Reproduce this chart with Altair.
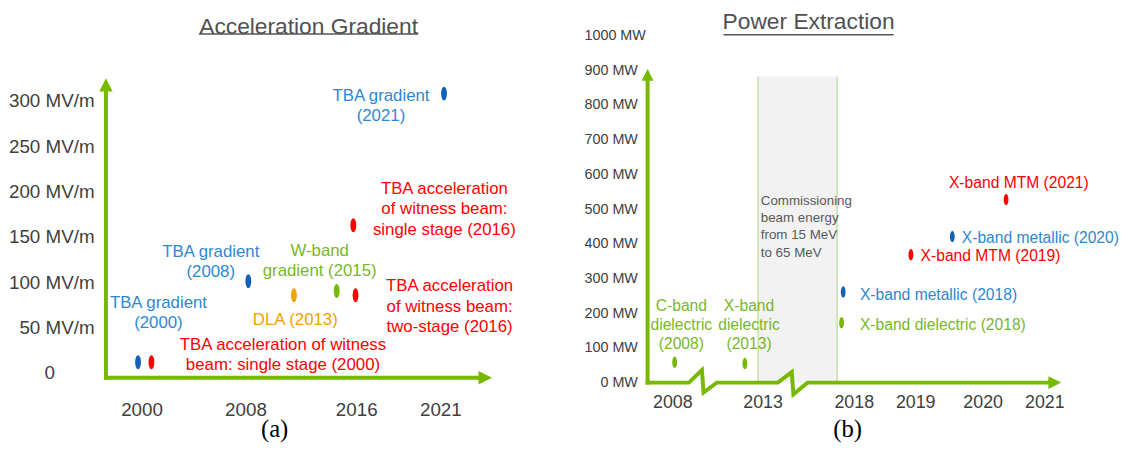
import altair as alt
import pandas as pd

FONT = "Liberation Sans"
SERIF = "Liberation Serif"
GREEN = "#76b900"
GREEN_TXT = "#78b72a"
GREEN_SOFT = "#b9dc92"
BLUE_TXT = "#2d88d2"
BLUE_DOT = "#1462b8"
RED = "#ff0000"
ORANGE_DOT = "#f5a300"
ORANGE_TXT = "#f2a100"
GREY = "#404040"
NOTE_GREY = "#595959"

ELLIPSE = "M0,-1A0.42,1 0 1,1 0,1A0.42,1 0 1,1 0,-1Z"
ARROW_UP = "M0,-1L1,1L-1,1Z"
ARROW_RIGHT = "M1,0L-1,1L-1,-1Z"

# ---------------- (a) Acceleration Gradient ----------------
a_tick_years = [2000, 2008, 2016, 2021]
a_tick_gradient = [0, 50, 100, 150, 200, 250, 300]

a_pt_year = [1999.73, 2000.76, 2008.21, 2011.5, 2014.59, 2015.95, 2015.79, 2021.22]
a_pt_gradient = [11.6, 11.6, 101, 85.5, 90.2, 85.5, 162.7, 308]
a_pt_color = [BLUE_DOT, RED, BLUE_DOT, ORANGE_DOT, GREEN, RED, RED, BLUE_DOT]

a_lbl_text = [
    "TBA gradient\n(2000)",
    "TBA gradient\n(2008)",
    "TBA acceleration of witness\nbeam: single stage (2000)",
    "DLA (2013)",
    "W-band\ngradient (2015)",
    "TBA acceleration\nof witness beam:\ntwo-stage (2016)",
    "TBA acceleration\nof witness beam:\nsingle stage (2016)",
    "TBA gradient\n(2021)",
]
a_lbl_year = [2001.3, 2005.33, 2010.71, 2011.6, 2013.36, 2021.55, 2021.24, 2017.47]
# gradient level of the first text line of each label
a_lbl_gradient = [77.1, 133.5, 30.9, 58.2, 134.6, 95.3, 202.6, 305.7]
a_lbl_color = [BLUE_TXT, BLUE_TXT, RED, ORANGE_TXT, GREEN_TXT, RED, RED, BLUE_TXT]

# axis arrows (data units of panel a)
a_axis_x = [1997.257, 1997.257]
a_axis_x2 = [1997.257, 2023.28]
a_axis_y = [-5.46, -5.46]
a_axis_y2 = [314.7, -5.46]
a_head_x = [1997.257, 2023.67]
a_head_y = [317.6, -5.46]
a_head_shape = [ARROW_UP, ARROW_RIGHT]
a_head_size = [182, 186]

# ---------------- (b) Power Extraction ----------------
b_tick_years = [2008, 2013, 2018, 2019, 2020, 2021]
b_tick_power = [0, 100, 200, 300, 400, 500, 600, 700, 800, 900, 1000]

b_pt_year = [2008.13, 2012.02, 2017.42, 2017.33, 2018.93, 2019.55, 2020.38]
b_pt_power = [58.7, 55, 261, 172.8, 368.7, 420.9, 527.5]
b_pt_color = [GREEN, GREEN, BLUE_DOT, GREEN, RED, BLUE_DOT, RED]

b_clbl_text = ["C-band\ndielectric\n(2008)", "X-band\ndielectric\n(2013)"]
b_clbl_year = [2008.5, 2012.25]
b_clbl_power = [220.4, 220.4]

b_lbl_text = [
    "X-band MTM (2021)",
    "X-band metallic (2020)",
    "X-band MTM (2019)",
    "X-band metallic (2018)",
    "X-band dielectric (2018)",
]
b_lbl_year = [2019.5, 2019.69, 2019.08, 2018.1, 2018.1]
b_lbl_power = [574.9, 415.2, 363.9, 251.8, 166.2]
b_lbl_color = [RED, BLUE_TXT, RED, BLUE_TXT, GREEN_TXT]

b_note_text = ["Commissioning\nbeam energy\nfrom 15 MeV\nto 65 MeV"]
b_note_year = [2012.9]
b_note_power = [522.7]

b_band_start = [2012.75]
b_band_end = [2017.09]
b_band_top = [882]

# broken time axis
b_axis_year = [2006.63, 2008.92, 2009.64, 2009.73, 2010.46, 2013.84, 2014.60, 2014.69, 2015.46, 2021.06]
b_axis_power = [0, 0, 35.9, -28.5, 0, 0, 30.2, -33.4, 0, 0]
b_vaxis_year = [2006.63]
b_vaxis_top = [869.7]
b_head_x = [2006.63, 2021.17]
b_head_y = [887.1, 0]
b_head_shape = [ARROW_UP, ARROW_RIGHT]
b_head_size = [144, 169]


def make_x(domain, rng, ticks, lsize, lpad, title, tx, ty):
    return alt.X(
        "x:Q",
        scale=alt.Scale(domain=domain, range=rng, nice=False, zero=False),
        axis=alt.Axis(
            values=ticks, format="d", grid=False, domain=False, ticks=False,
            labelFont=FONT, labelFontSize=lsize, labelColor=GREY, labelPadding=lpad,
            labelFlush=False, labelOverlap=False,
            title=title, titleFont=SERIF, titleFontSize=25, titleFontWeight="normal",
            titleColor="black", titleX=tx, titleY=ty, titleBaseline="middle",
        ),
    )


def make_y(domain, ticks, expr, lsize, lpad):
    return alt.Y(
        "y:Q",
        scale=alt.Scale(domain=domain, nice=False, zero=False),
        axis=alt.Axis(
            values=ticks, labelExpr=expr, grid=False, domain=False, ticks=False,
            labelFont=FONT, labelFontSize=lsize, labelColor=GREY, labelPadding=lpad,
            labelFlush=False, labelOverlap=False, title=None,
        ),
    )


# ---- panel a
AX = make_x(a_tick_years, [36, 141, 253, 338], a_tick_years, 19, 23.5, "(a)", 170, 51.5)
AY = make_y([-5.46, 374.77], a_tick_gradient,
            "datum.value === 0 ? '0' : datum.value + ' MV/m'", 19,
            {"condition": {"test": "datum.value === 0", "value": 52}, "value": 12})

a_axes = alt.Chart(pd.DataFrame({"x": a_axis_x, "x2": a_axis_x2, "y": a_axis_y, "y2": a_axis_y2})).mark_rule(
    color=GREEN, strokeWidth=4, strokeCap="square").encode(x=AX, y=AY, x2="x2:Q", y2="y2:Q")
a_heads = alt.Chart(pd.DataFrame({"x": a_head_x, "y": a_head_y, "s": a_head_shape, "z": a_head_size})).mark_point(
    filled=True, opacity=1, color=GREEN, strokeWidth=0).encode(
    x=AX, y=AY, shape=alt.Shape("s:N", scale=None), size=alt.Size("z:Q", scale=None))
a_points = alt.Chart(pd.DataFrame({"x": a_pt_year, "y": a_pt_gradient, "c": a_pt_color})).mark_point(
    shape=ELLIPSE, filled=True, opacity=1, size=196, strokeWidth=0).encode(
    x=AX, y=AY, color=alt.Color("c:N", scale=None))
a_labels = alt.Chart(pd.DataFrame({"x": a_lbl_year, "y": a_lbl_gradient, "t": a_lbl_text, "c": a_lbl_color})).mark_text(
    font=FONT, fontSize=17, lineBreak="\n", lineHeight=20.5, align="center", baseline="middle").encode(
    x=AX, y=AY, text="t:N", color=alt.Color("c:N", scale=None))
a_underline = alt.Chart(pd.DataFrame({"x": [0]})).mark_rule(color="#555555", strokeWidth=1.5).encode(
    x=alt.value(94), x2=alt.value(315.7), y=alt.value(1))

panel_a = alt.layer(a_axes, a_heads, a_points, a_labels, a_underline).properties(
    width=376.7, height=348.3,
    title=alt.TitleParams("Acceleration Gradient", font=FONT, fontSize=23, fontWeight="normal",
                          color="#505050", anchor="middle", frame="group", baseline="alphabetic",
                          offset=-24, dx=16.5),
)

# ---- panel b
BX = make_x(b_tick_years, [25, 116.2, 208.4, 270.5, 338.7, 401], b_tick_years, 18, 11.2, "(b)", 201.7, 46)
BY = make_y([0, 1007.4], b_tick_power, "datum.value + ' MW'", 14.5,
            {"condition": {"test": "datum.value === 1000", "value": 2.3}, "value": 10.3})

b_band = alt.Chart(pd.DataFrame({"x": b_band_start, "x2": b_band_end, "y": [0], "y2": b_band_top})).mark_rect(
    color="#f2f2f2").encode(x=BX, x2="x2:Q", y=BY, y2="y2:Q")
b_band_edges = alt.Chart(pd.DataFrame({"x": b_band_start + b_band_end, "y": [0, 0], "y2": b_band_top * 2})).mark_rule(
    color=GREEN_SOFT, strokeWidth=1.2).encode(x=BX, y=BY, y2="y2:Q")
b_note = alt.Chart(pd.DataFrame({"x": b_note_year, "y": b_note_power, "t": b_note_text})).mark_text(
    font=FONT, fontSize=13.5, lineBreak="\n", lineHeight=17.3, align="left", baseline="middle",
    color=NOTE_GREY).encode(x=BX, y=BY, text="t:N")
b_hline = alt.Chart(pd.DataFrame({"x": b_axis_year, "y": b_axis_power, "o": list(range(len(b_axis_year)))})).mark_line(
    color=GREEN, strokeWidth=4, strokeJoin="miter", strokeCap="square").encode(x=BX, y=BY, order="o:Q")
b_vline = alt.Chart(pd.DataFrame({"x": b_vaxis_year, "y": [0], "y2": b_vaxis_top})).mark_rule(
    color=GREEN, strokeWidth=4, strokeCap="square").encode(x=BX, y=BY, y2="y2:Q")
b_heads = alt.Chart(pd.DataFrame({"x": b_head_x, "y": b_head_y, "s": b_head_shape, "z": b_head_size})).mark_point(
    filled=True, opacity=1, color=GREEN, strokeWidth=0).encode(
    x=BX, y=BY, shape=alt.Shape("s:N", scale=None), size=alt.Size("z:Q", scale=None))
b_points = alt.Chart(pd.DataFrame({"x": b_pt_year, "y": b_pt_power, "c": b_pt_color})).mark_point(
    shape=ELLIPSE, filled=True, opacity=1, size=132, strokeWidth=0).encode(
    x=BX, y=BY, color=alt.Color("c:N", scale=None))
b_clabels = alt.Chart(pd.DataFrame({"x": b_clbl_year, "y": b_clbl_power, "t": b_clbl_text})).mark_text(
    font=FONT, fontSize=15.8, lineBreak="\n", lineHeight=19, align="center", baseline="middle",
    color=GREEN_TXT).encode(x=BX, y=BY, text="t:N")
b_labels = alt.Chart(pd.DataFrame({"x": b_lbl_year, "y": b_lbl_power, "t": b_lbl_text, "c": b_lbl_color})).mark_text(
    font=FONT, fontSize=15.8, align="left", baseline="middle").encode(
    x=BX, y=BY, text="t:N", color=alt.Color("c:N", scale=None))
b_underline = alt.Chart(pd.DataFrame({"x": [0]})).mark_rule(color="#555555", strokeWidth=1.5).encode(
    x=alt.value(76.7), x2=alt.value(248.7), y=alt.value(1.7))

panel_b = alt.layer(b_band, b_band_edges, b_note, b_hline, b_vline, b_heads, b_points,
                    b_clabels, b_labels, b_underline).properties(
    width=404.7, height=353.3,
    title=alt.TitleParams("Power Extraction", font=FONT, fontSize=23, fontWeight="normal",
                          color="#505050", anchor="middle", frame="group", baseline="alphabetic",
                          offset=-24, dx=-39.6),
)

chart = alt.hconcat(panel_a, panel_b, spacing=170.5, bounds="flush").properties(
    padding=0, background="white"
).configure_view(stroke=None)

chart.save("out.html", embed_options={"renderer": "svg", "actions": False})
